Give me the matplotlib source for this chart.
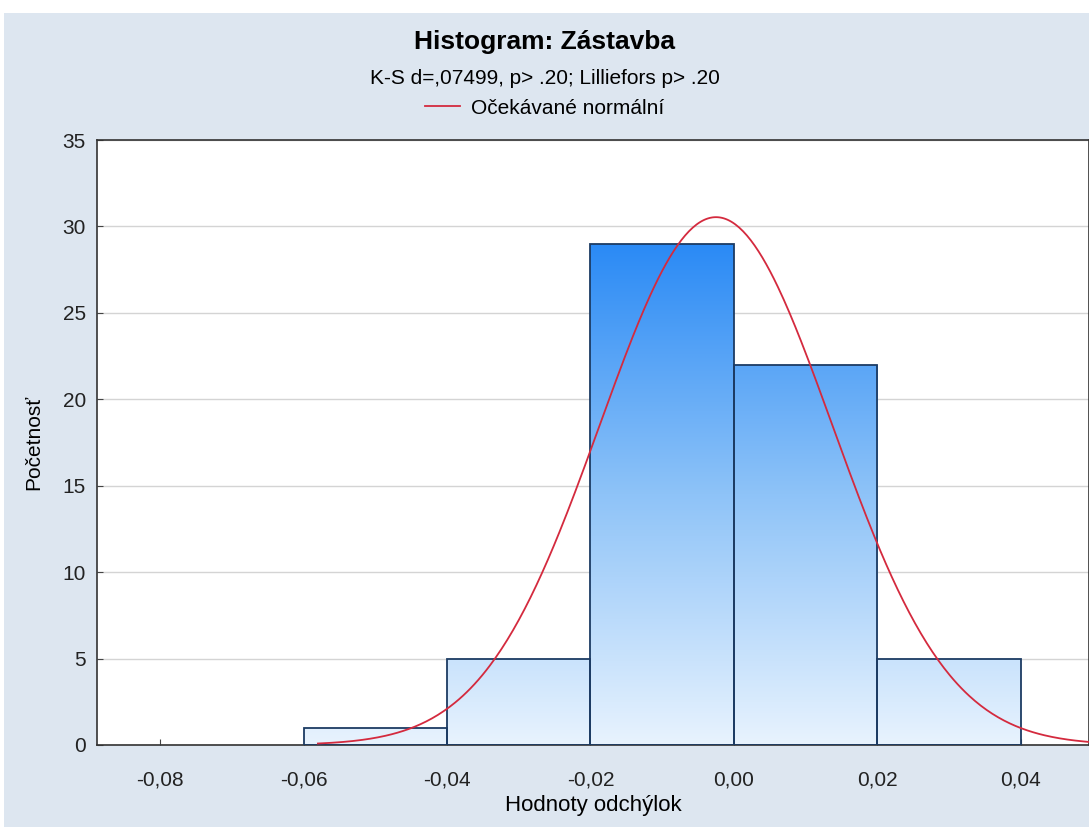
import numpy as np
import matplotlib.pyplot as plt
from matplotlib.colors import LinearSegmentedColormap
from matplotlib.patches import Rectangle

# data
bin_edges = [-0.06, -0.04, -0.02, 0.00, 0.02, 0.04]
counts = [1, 5, 29, 22, 5]
n_total = 62
mean_fit = -0.0025
sd_fit = 0.0162

x_ticks = [-0.08, -0.06, -0.04, -0.02, 0.00, 0.02, 0.04]
x_tick_labels = ["-0,08", "-0,06", "-0,04", "-0,02", "0,00", "0,02", "0,04"]
y_ticks = [0, 5, 10, 15, 20, 25, 30, 35]

titulo = "Histogram: Zástavba"
podtitulok = "K-S d=,07499, p> .20; Lilliefors p> .20"
eixo_x = "Hodnoty odchýlok"
eixo_y = "Početnosť"

plt.rcParams['font.family'] = ['Liberation Sans', 'DejaVu Sans']

fig = plt.figure(figsize=(10.89, 8.27), dpi=100, facecolor="white")
# light blue background panel (white strip at top/left like the screenshot)
fig.patches.append(Rectangle((4 / 1089, 0), 1, (827 - 13) / 827, transform=fig.transFigure,
                             facecolor="#dde6f0", edgecolor="none", zorder=0))

ax = fig.add_axes([97 / 1089, (827 - 745) / 827, 1 - 97 / 1089, (745 - 140) / 827])
ax.set_zorder(2)
ax.set_facecolor("white")
ax.set_xlim(-0.0888, 0.0495)
ax.set_ylim(0, 35)

# gradient bars
cmap = LinearSegmentedColormap.from_list("barras", ["#e8f3fe", "#8ec3f8", "#2a8af5"], N=256)
grad = np.linspace(0, 1, 256).reshape(-1, 1)
for i, c in enumerate(counts):
    left, right = bin_edges[i], bin_edges[i + 1]
    rect = Rectangle((left, 0), right - left, c, facecolor="none",
                     edgecolor="#1c3b63", linewidth=1.3, zorder=3)
    ax.add_patch(rect)
    im = ax.imshow(grad, cmap=cmap, aspect="auto", origin="lower",
                   extent=[left, right, 0, 29], vmin=0, vmax=1, zorder=2,
                   interpolation="bilinear")
    im.set_clip_path(rect)

# expected normal curve
xs = np.linspace(-0.058, 0.0495, 400)
ys = n_total * 0.02 / (sd_fit * np.sqrt(2 * np.pi)) * np.exp(-0.5 * ((xs - mean_fit) / sd_fit) ** 2)
ax.plot(xs, ys, color="#d42a3e", linewidth=1.3, zorder=4, label="Očekávané normální")

ax.set_xlim(-0.0888, 0.0495)
ax.set_ylim(0, 35)
ax.set_xticks(x_ticks)
ax.set_xticklabels(x_tick_labels)
ax.set_yticks(y_ticks)
ax.yaxis.grid(True, color="#d4d4d4", linewidth=1)
ax.set_axisbelow(True)
ax.tick_params(direction="in", length=4, color="#444444", labelcolor="#222222")
ax.tick_params(axis="x", labelsize=15, pad=18)
ax.tick_params(axis="y", labelsize=15, pad=8)
for s in ax.spines.values():
    s.set_color("#333333")
    s.set_linewidth(1.2)

ax.set_xlabel(eixo_x, fontsize=16, labelpad=4)
ax.set_ylabel(eixo_y, fontsize=15, labelpad=14)

fig.text(0.5, (827 - 42) / 827, titulo, ha="center", va="center", fontsize=19, fontweight="bold")
fig.text(0.5, (827 - 78) / 827, podtitulok, ha="center", va="center", fontsize=15)
fig.legend(loc="center", bbox_to_anchor=(0.5, (827 - 108) / 827), frameon=False,
           fontsize=15, handlelength=1.7, handletextpad=0.5)

plt.savefig("out.png", dpi=100)
